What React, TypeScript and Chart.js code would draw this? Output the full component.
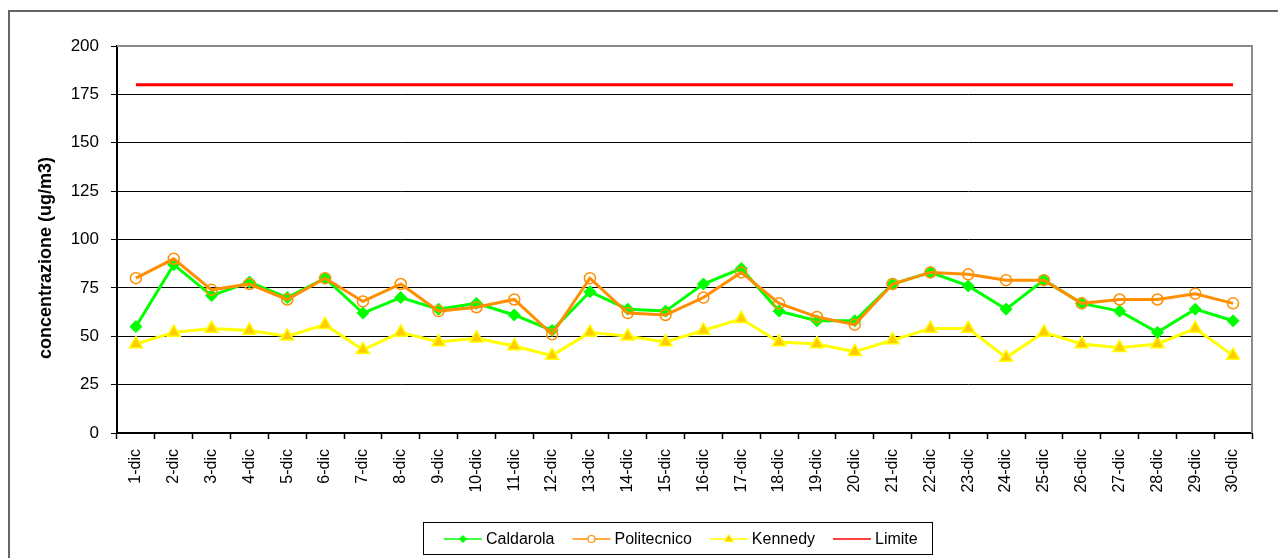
import React, { useEffect, useRef } from "react";
import { Chart, registerables } from "chart.js";

Chart.register(...registerables);

const categories = [
  "1-dic", "2-dic", "3-dic", "4-dic", "5-dic", "6-dic", "7-dic", "8-dic", "9-dic", "10-dic",
  "11-dic", "12-dic", "13-dic", "14-dic", "15-dic", "16-dic", "17-dic", "18-dic", "19-dic", "20-dic",
  "21-dic", "22-dic", "23-dic", "24-dic", "25-dic", "26-dic", "27-dic", "28-dic", "29-dic", "30-dic",
];

const caldarola = [55, 87, 71, 78, 70, 80, 62, 70, 64, 67, 61, 53, 73, 64, 63, 77, 85, 63, 58, 58, 77, 83, 76, 64, 79, 67, 63, 52, 64, 58];
const politecnico = [80, 90, 74, 77, 69, 80, 68, 77, 63, 65, 69, 51, 80, 62, 61, 70, 83, 67, 60, 56, 77, 83, 82, 79, 79, 67, 69, 69, 72, 67];
const kennedy = [46, 52, 54, 53, 50, 56, 43, 52, 47, 49, 45, 40, 52, 50, 47, 53, 59, 47, 46, 42, 48, 54, 54, 39, 52, 46, 44, 46, 54, 40];
const limite = [180, 180, 180, 180, 180, 180, 180, 180, 180, 180, 180, 180, 180, 180, 180, 180, 180, 180, 180, 180, 180, 180, 180, 180, 180, 180, 180, 180, 180, 180];

const yTicks = [0, 25, 50, 75, 100, 125, 150, 175, 200];
const yTitle = "concentrazione (ug/m3)";
const seriesNames = ["Caldarola", "Politecnico", "Kennedy", "Limite"];

const FONT = "'Liberation Sans', Arial, sans-serif";
const GREEN = "#00FF00";
const ORANGE = "#FF8F00";
const YELLOW = "#FFFF00";
const GOLD = "#FFCC00";
const RED = "#FF0000";

function drawMarker(ctx: CanvasRenderingContext2D, kind: string, x: number, y: number) {
  ctx.save();
  if (kind === "diamond") {
    const r = 4;
    ctx.beginPath();
    ctx.moveTo(x, y - r);
    ctx.lineTo(x + r, y);
    ctx.lineTo(x, y + r);
    ctx.lineTo(x - r, y);
    ctx.closePath();
    ctx.fillStyle = GREEN;
    ctx.fill();
  } else if (kind === "circle") {
    ctx.beginPath();
    ctx.arc(x, y, 3.5, 0, Math.PI * 2);
    ctx.strokeStyle = ORANGE;
    ctx.lineWidth = 1.2;
    ctx.fillStyle = "#fff";
    ctx.fill();
    ctx.stroke();
  } else if (kind === "triangle") {
    const r = 4.5;
    ctx.beginPath();
    ctx.moveTo(x, y - r);
    ctx.lineTo(x + r, y + r * 0.6);
    ctx.lineTo(x - r, y + r * 0.6);
    ctx.closePath();
    ctx.fillStyle = GOLD;
    ctx.strokeStyle = YELLOW;
    ctx.lineWidth = 1;
    ctx.fill();
    ctx.stroke();
  }
  ctx.restore();
}

const framePlugin = {
  id: "frame",
  beforeDraw(chart: any) {
    const ctx = chart.ctx as CanvasRenderingContext2D;
    ctx.save();
    ctx.fillStyle = "#fff";
    ctx.fillRect(0, 0, chart.width, chart.height);
    ctx.strokeStyle = "#666";
    ctx.lineWidth = 2;
    ctx.beginPath();
    ctx.moveTo(9, chart.height);
    ctx.lineTo(9, 11);
    ctx.lineTo(chart.width, 11);
    ctx.stroke();
    ctx.restore();
  },
  afterDraw(chart: any) {
    const ctx = chart.ctx as CanvasRenderingContext2D;
    const a = chart.chartArea;
    ctx.save();
    ctx.strokeStyle = "#8c8c8c";
    ctx.lineWidth = 2;
    ctx.beginPath();
    ctx.moveTo(a.left, a.top);
    ctx.lineTo(a.right, a.top);
    ctx.lineTo(a.right, a.bottom);
    ctx.stroke();

    ctx.fillStyle = "#000";
    ctx.font = `bold 18px ${FONT}`;
    ctx.textAlign = "center";
    ctx.textBaseline = "middle";
    ctx.translate(46, 258);
    ctx.rotate(-Math.PI / 2);
    ctx.fillText(yTitle, 0, 0);
    ctx.restore();

    ctx.save();
    ctx.font = `16px ${FONT}`;
    ctx.textBaseline = "middle";
    ctx.fillStyle = "#000";
    const colors = [GREEN, ORANGE, YELLOW, RED];
    const markers = ["diamond", "circle", "triangle", ""];
    const ly = 539;
    const lineLen = 38;
    const gap = 4;
    const itemGap = 18;
    const widths = seriesNames.map((n) => ctx.measureText(n).width);
    const total = widths.reduce((s, w) => s + lineLen + gap + w, 0) + itemGap * (seriesNames.length - 1);
    const padL = 21;
    const padR = 14;
    const boxW = total + padL + padR;
    const boxL = Math.round(677 - boxW / 2);
    ctx.strokeStyle = "#000";
    ctx.lineWidth = 1;
    ctx.strokeRect(boxL + 0.5, 522.5, Math.round(boxW), 32);
    let x = boxL + padL;
    seriesNames.forEach((name, i) => {
      ctx.strokeStyle = colors[i];
      ctx.lineWidth = 1.5;
      ctx.beginPath();
      ctx.moveTo(x, ly);
      ctx.lineTo(x + lineLen, ly);
      ctx.stroke();
      if (markers[i]) drawMarker(ctx, markers[i], x + lineLen / 2, ly);
      ctx.fillStyle = "#000";
      ctx.fillText(name, x + lineLen + gap, ly + 1);
      x += lineLen + gap + widths[i] + itemGap;
    });
    ctx.restore();
  },
};

export default function App() {
  const ref = useRef<HTMLCanvasElement | null>(null);

  useEffect(() => {
    if (!ref.current) return;
    const chart = new Chart(ref.current, {
      type: "line",
      data: {
        labels: categories,
        datasets: [
          {
            label: seriesNames[0],
            data: caldarola,
            borderColor: GREEN,
            backgroundColor: GREEN,
            borderWidth: 3,
            pointStyle: "rectRot",
            pointRadius: 6,
            pointBorderWidth: 1,
            pointBackgroundColor: GREEN,
            pointBorderColor: GREEN,
            tension: 0,
            order: 2,
          },
          {
            label: seriesNames[1],
            data: politecnico,
            borderColor: ORANGE,
            backgroundColor: "rgba(0,0,0,0)",
            borderWidth: 3,
            pointStyle: "circle",
            pointRadius: 5.5,
            pointBorderWidth: 1.5,
            pointBackgroundColor: "rgba(0,0,0,0)",
            pointBorderColor: ORANGE,
            tension: 0,
            order: 1,
          },
          {
            label: seriesNames[2],
            data: kennedy,
            borderColor: YELLOW,
            backgroundColor: GOLD,
            borderWidth: 3,
            pointStyle: "triangle",
            pointRadius: 7.5,
            pointBorderWidth: 1.5,
            pointBackgroundColor: GOLD,
            pointBorderColor: YELLOW,
            tension: 0,
            order: 3,
          },
          {
            label: seriesNames[3],
            data: limite,
            borderColor: RED,
            backgroundColor: RED,
            borderWidth: 3,
            pointRadius: 0,
            tension: 0,
            order: 0,
          },
        ],
      },
      options: {
        responsive: false,
        animation: false,
        devicePixelRatio: 1,
        layout: { padding: { left: 0, right: 26, top: 46, bottom: 0 } },
        plugins: {
          legend: { display: false },
          tooltip: { enabled: false },
          title: { display: false },
        },
        scales: {
          x: {
            type: "category",
            offset: true,
            grid: {
              display: true,
              offset: true,
              drawOnChartArea: false,
              drawTicks: true,
              tickLength: 6,
              tickColor: "#000",
              tickWidth: 1.5,
            },
            border: { display: true, color: "#000", width: 2 },
            ticks: {
              autoSkip: false,
              maxRotation: 90,
              minRotation: 90,
              padding: 10,
              color: "#000",
              font: { family: FONT, size: 16 },
            },
            afterFit: (scale: any) => {
              scale.height = 125;
            },
          },
          y: {
            min: 0,
            max: 200,
            afterBuildTicks: (scale: any) => {
              scale.ticks = yTicks.map((v) => ({ value: v }));
            },
            grid: {
              color: (c: any) => (c.tick && c.tick.value === 200 ? "#8c8c8c" : "#000"),
              lineWidth: 1,
              drawTicks: true,
              tickLength: 6,
              tickColor: "#000",
              tickWidth: 1,
            },
            border: { display: true, color: "#000", width: 2 },
            ticks: {
              padding: 12,
              color: "#000",
              font: { family: FONT, size: 17 },
            },
            afterFit: (scale: any) => {
              scale.width = 117;
            },
          },
        },
      },
      plugins: [framePlugin],
    });
    return () => chart.destroy();
  }, []);

  return (
    <div style={{ position: "fixed", left: 0, top: 0, width: 1278, height: 558, background: "#fff" }}>
      <canvas ref={ref} width={1278} height={558} style={{ display: "block", width: 1278, height: 558 }} />
    </div>
  );
}
